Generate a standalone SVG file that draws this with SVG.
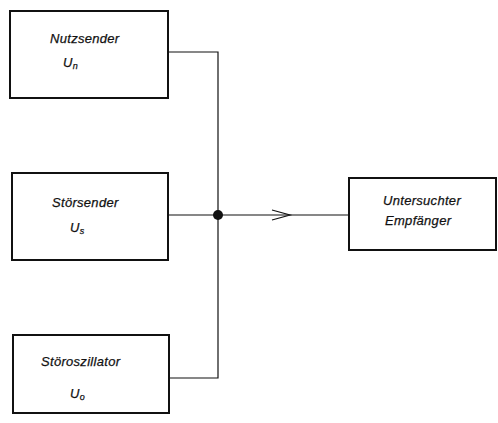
<svg xmlns="http://www.w3.org/2000/svg" width="498" height="423" viewBox="0 0 498 423">
<style>
.box{fill:#fff;stroke:#111;stroke-width:2}
.ln{fill:none;stroke:#111;stroke-width:1.2}
.t{font-family:"Liberation Sans",Arial,sans-serif;font-style:italic;font-size:13px;letter-spacing:0.3px;fill:#111;stroke:#111;stroke-width:0.25}
.sub{font-size:9px}
</style>
<rect width="498" height="423" fill="#fff"/>
<g id="connectors">
<polyline class="ln" points="168,52 218,52 218,378 169,378"/>
<line class="ln" x1="168" y1="215" x2="349" y2="215"/>
<polyline class="ln" points="272,210 290,215 272,220"/>
<circle cx="218" cy="215" r="5" fill="#111"/>
</g>
<g id="nutzsender">
<rect class="box" x="10" y="11" width="158" height="87"/>
<text class="t" x="50" y="43">Nutzsender</text>
<text class="t" x="63" y="67">U<tspan class="sub" dy="2">n</tspan></text>
</g>
<g id="stoersender">
<rect class="box" x="12" y="173" width="156" height="87"/>
<text class="t" x="52" y="207">Störsender</text>
<text class="t" x="70" y="232">U<tspan class="sub" dy="2">s</tspan></text>
</g>
<g id="stoeroszillator">
<rect class="box" x="13" y="335" width="156" height="78"/>
<text class="t" x="41" y="366">Störoszillator</text>
<text class="t" x="70" y="398">U<tspan class="sub" dy="2">o</tspan></text>
</g>
<g id="empfaenger">
<rect class="box" x="349" y="178" width="147" height="72"/>
<text class="t" x="383" y="205">Untersuchter</text>
<text class="t" x="385" y="225">Empfänger</text>
</g>
</svg>
